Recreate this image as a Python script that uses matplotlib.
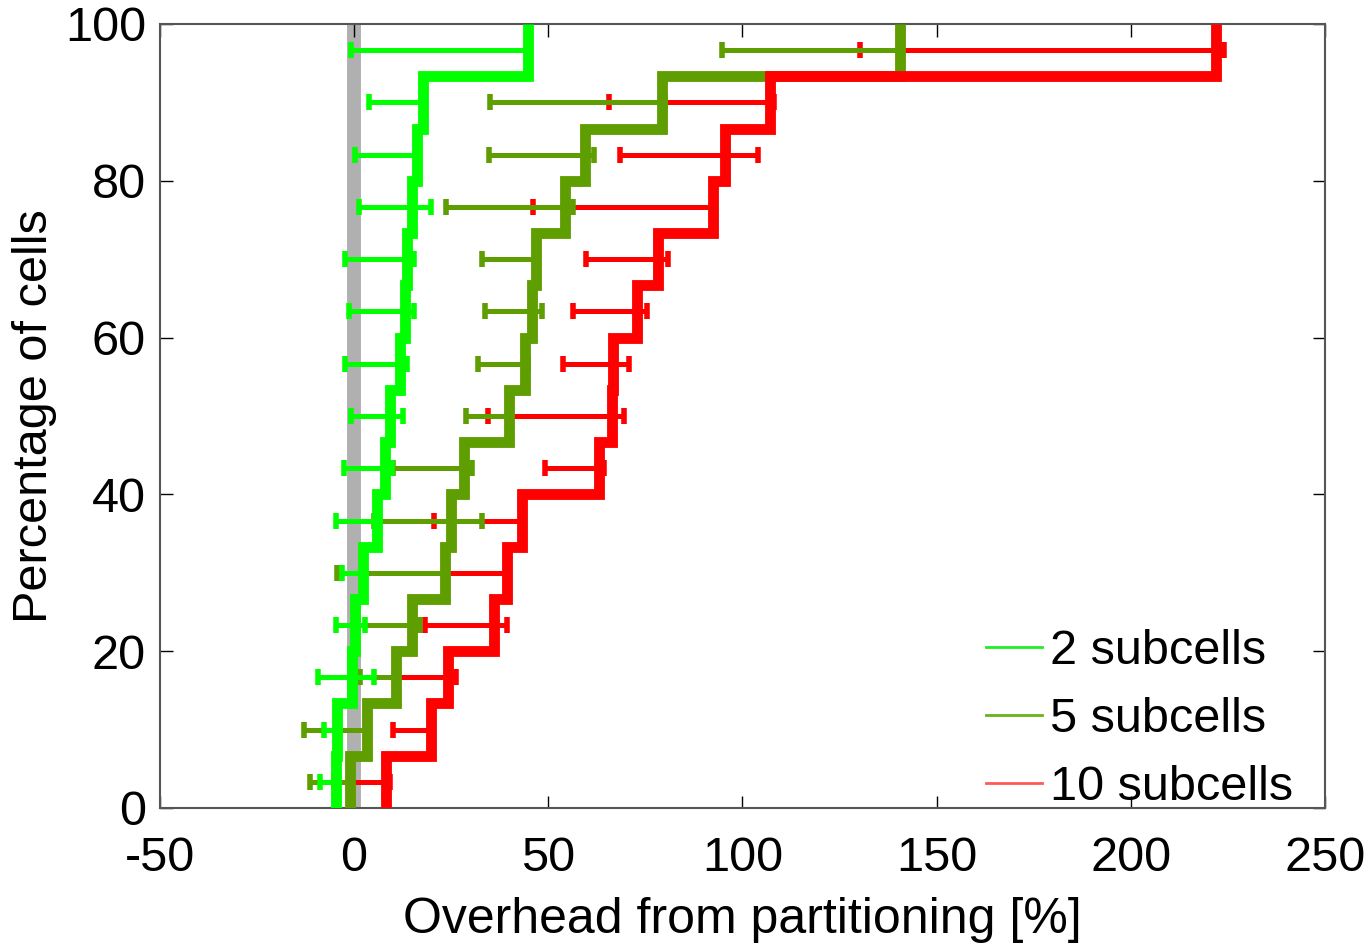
import numpy as np
import matplotlib
matplotlib.use("Agg")
import matplotlib.pyplot as plt
from matplotlib.lines import Line2D

plt.rcParams["font.family"] = ["Liberation Sans", "DejaVu Sans"]
plt.rcParams["axes.unicode_minus"] = False

# 15 cells per series, sorted; CDF step position plus min/max error range
levels = np.arange(15)
labels = ["2 subcells", "5 subcells", "10 subcells"]
colors = ["#00ff00", "#5f9e00", "#ff0000"]
legend_colors = ["#22ee22", "#66b31a", "#ff5a5a"]

green_step = [-4.6, -4.3, -0.5, 0.3, 2.3, 6.0, 7.9, 9.3, 11.9, 13.2, 13.5, 14.9, 16.3, 17.7, 44.8]
green_lo = [-8.8, -7.7, -9.2, -4.7, -3.0, -4.7, -2.7, -0.8, -2.3, -1.3, -2.3, 1.3, 0.3, 3.9, -0.8]
green_hi = [-4.6, -4.3, 5.2, 2.8, 2.3, 6.0, 9.8, 12.7, 13.6, 15.3, 15.3, 19.8, 16.3, 17.7, 44.8]

dkgreen_step = [-1.0, 3.3, 10.8, 14.9, 23.4, 24.9, 28.4, 40.0, 43.9, 45.9, 46.8, 54.3, 59.4, 79.4, 140.5]
dkgreen_lo = [-11.3, -12.9, 1.5, 0.3, -4.5, 5.0, 10.1, 28.9, 31.8, 33.8, 32.9, 23.7, 34.8, 35.0, 94.8]
dkgreen_hi = [-1.0, 3.3, 11.0, 17.0, 23.4, 32.9, 30.3, 40.0, 44.9, 48.4, 47.0, 56.5, 61.7, 80.0, 141.0]

red_step = [8.3, 19.7, 24.3, 35.9, 39.4, 43.2, 63.0, 66.5, 66.7, 72.9, 78.3, 92.4, 95.4, 107.0, 222.0]
red_lo = [-5.3, 10.1, -0.8, 18.3, 23.3, 20.7, 49.2, 34.6, 53.9, 56.3, 59.8, 46.2, 68.4, 65.7, 130.3]
red_hi = [9.3, 20.0, 26.3, 39.3, 39.5, 43.5, 64.3, 69.4, 70.9, 75.4, 80.8, 92.4, 103.9, 108.2, 224.0]

steps = [green_step, dkgreen_step, red_step]
lows = [green_lo, dkgreen_lo, red_lo]
highs = [green_hi, dkgreen_hi, red_hi]

x_ticks = [-50, 0, 50, 100, 150, 200, 250]
y_ticks = [0, 20, 40, 60, 80, 100]

edges = np.linspace(0, 100, len(levels) + 1)
mids = (edges[:-1] + edges[1:]) / 2

fig = plt.figure(figsize=(13.72, 9.48), dpi=100)
ax = fig.add_axes([0.1166, 0.1477, 0.849, 0.827])

ax.axvline(0, color="#b0b0b0", lw=10, zorder=0)

# error bars first, red at the bottom
for i in [2, 1, 0]:
    lo = np.array(lows[i])
    hi = np.array(highs[i])
    ax.errorbar((lo + hi) / 2, mids, xerr=(hi - lo) / 2, fmt="none",
                ecolor=colors[i], elinewidth=3.6, capsize=6, capthick=4, zorder=2)

for i in range(3):
    ax.stairs(steps[i], edges, orientation="horizontal", baseline=None,
              color=colors[i], lw=7.8, zorder=3 + i)

ax.set_xlim(-50, 250)
ax.set_ylim(0, 100)
ax.set_xticks(x_ticks)
ax.set_yticks(y_ticks)
ax.tick_params(direction="in", length=9, width=1, top=True, right=True,
               labelsize=35)
ax.tick_params(axis="x", pad=20)
ax.tick_params(axis="y", pad=10)
for s in ax.spines.values():
    s.set_color("#555555")
    s.set_linewidth(1.5)

ax.set_xlabel("Overhead from partitioning [%]", fontsize=36, labelpad=12)
ax.set_ylabel("Percentage of cells", fontsize=35, labelpad=6)

handles = [Line2D([], [], color=c, lw=2) for c in legend_colors]
ax.legend(handles, labels, loc="lower right", frameon=False, fontsize=35,
          handlelength=1.15, handletextpad=0.15, labelspacing=0.48,
          borderpad=0.0, borderaxespad=0.0, bbox_to_anchor=(0.9725, -0.003))

fig.savefig("out.png", dpi=100)
